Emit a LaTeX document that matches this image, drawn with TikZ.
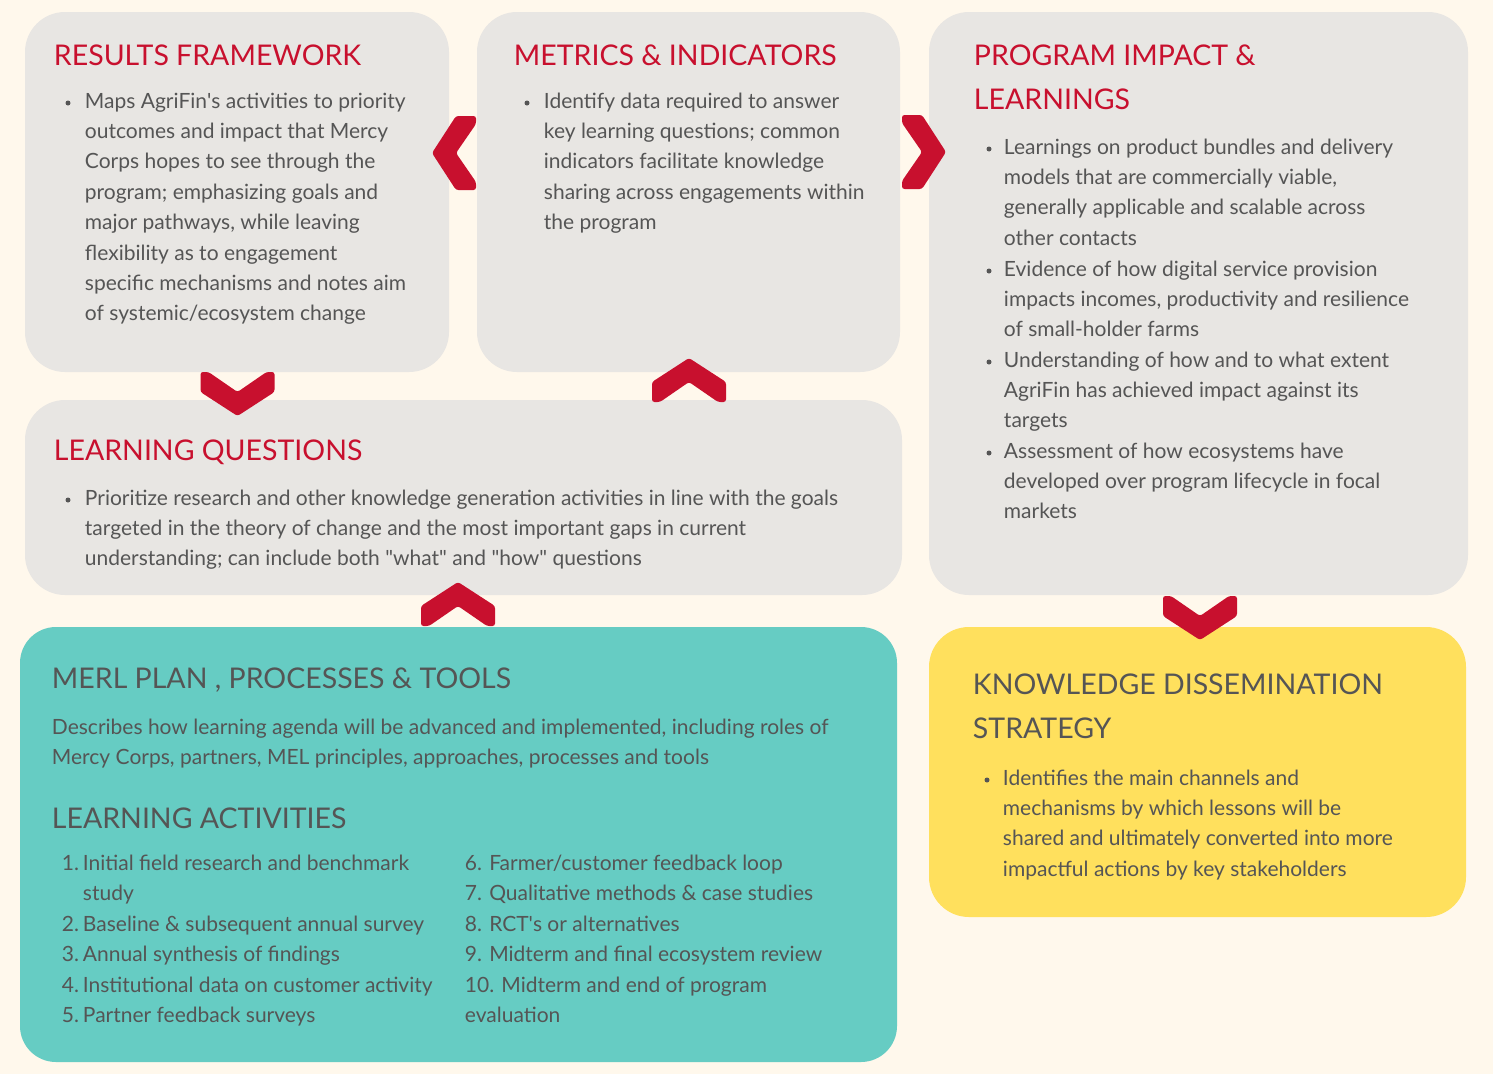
\documentclass[tikz,border=0pt]{standalone}
\usepackage{fontspec}
\setmainfont{Lato}
\definecolor{bgcream}{HTML}{FFF8EC}
\definecolor{boxgray}{HTML}{E8E6E3}
\definecolor{chevred}{HTML}{C8102E}
\definecolor{txtgray}{HTML}{555555}
\definecolor{merlteal}{HTML}{66CCC3}
\definecolor{kdyellow}{HTML}{FFE05D}
\begin{document}
\begin{tikzpicture}[x=1pt,y=1pt,yscale=-1,xscale=1,
	head/.style={anchor=base west,inner sep=0.75pt,align=left,font=\fontsize{28.5}{44}\selectfont},
	body/.style={anchor=base west,inner sep=0.75pt,align=left,text=txtgray,font=\fontsize{21}{30.4}\selectfont},
	num/.style={anchor=base east,inner sep=0.75pt,text=txtgray,font=\fontsize{21}{30.4}\selectfont},
	dot/.style={circle,fill=txtgray,inner sep=0pt,minimum size=5pt},
	chev/.pic={\fill [chevred,rounded corners=2.5pt] (0,-24) -- (37,0) -- (37,20) -- (29,20) -- (0,0) -- (-29,20) -- (-37,20) -- (-37,0) -- cycle ;}
	]
	\useasboundingbox (0,0) rectangle (1493,1074);
	\fill [bgcream] (0,0) rectangle (1493,1074);
	
	%Shape: Rounded boxes
	\fill [boxgray,rounded corners=40pt] (25,12) rectangle (449,372) ;
	\fill [boxgray,rounded corners=40pt] (477,12) rectangle (900,372) ;
	\fill [boxgray,rounded corners=40pt] (929,12) rectangle (1468,595) ;
	\fill [boxgray,rounded corners=40pt] (25,400) rectangle (902,595) ;
	\fill [merlteal,rounded corners=36pt] (20,627) rectangle (897,1062) ;
	\fill [kdyellow,rounded corners=40pt] (929,627) rectangle (1466,917) ;
	
	%Shape: Chevrons
	\pic [rotate=-90] at (456,153) {chev};
	\pic [rotate=90] at (922,152) {chev};
	\pic at (237.5,392) {chev};
	\pic [rotate=180] at (689,382) {chev};
	\pic [rotate=180] at (458,606) {chev};
	\pic at (1200,616) {chev};
	
	% Text Node (multi-line nodes sit on their last baseline)
	\draw (53,65) node [head,text=chevred] (rfHead) {RESULTS FRAMEWORK};
	\draw (68,103) node [dot] (rfDot) {};
	\draw (84,320.8) node [body] (rfText) {Maps AgriFin\textquotesingle s activities to priority\\outcomes and impact that Mercy\\Corps hopes to see through the\\program; emphasizing goals and\\major pathways, while leaving\\flexibility as to engagement\\specific mechanisms and notes aim\\of systemic/ecosystem change};
	% Text Node
	\draw (513,65) node [head,text=chevred] (miHead) {METRICS \& INDICATORS};
	\draw (527,103) node [dot] (miDot) {};
	\draw (543,229.6) node [body] (miText) {Identify data required to answer\\key learning questions; common\\indicators facilitate knowledge\\sharing across engagements within\\the program};
	% Text Node
	\draw (973,109) node [head,text=chevred] (piHead) {PROGRAM IMPACT \&\\LEARNINGS};
	\draw (989,149) node [dot] (piDotA) {};
	\draw (1003,245.2) node [body] (piTextA) {Learnings on product bundles and delivery\\models that are commercially viable,\\generally applicable and scalable across\\other contacts};
	\draw (989,271) node [dot] (piDotB) {};
	\draw (1003,336.8) node [body] (piTextB) {Evidence of how digital service provision\\impacts incomes, productivity and resilience\\of small-holder farms};
	\draw (989,362) node [dot] (piDotC) {};
	\draw (1003,427.8) node [body] (piTextC) {Understanding of how and to what extent\\AgriFin has achieved impact against its\\targets};
	\draw (989,453) node [dot] (piDotD) {};
	\draw (1003,518.8) node [body] (piTextD) {Assessment of how ecosystems have\\developed over program lifecycle in focal\\markets};
	% Text Node
	\draw (53,460) node [head,text=chevred] (lqHead) {LEARNING QUESTIONS};
	\draw (68,500) node [dot] (lqDot) {};
	\draw (84,565.8) node [body] (lqText) {Prioritize research and other knowledge generation activities in line with the goals\\targeted in the theory of change and the most important gaps in current\\understanding; can include both \textquotedbl what\textquotedbl{} and \textquotedbl how\textquotedbl{} questions};
	% Text Node
	\draw (51,688) node [head,text=txtgray] (mpHead) {MERL PLAN , PROCESSES \& TOOLS};
	\draw (51,764.4) node [body] (mpText) {Describes how learning agenda will be advanced and implemented, including roles of\\Mercy Corps, partners, MEL principles, approaches, processes and tools};
	\draw (51,828) node [head,text=txtgray] (laHead) {LEARNING ACTIVITIES};
	\draw (80,870) node [num] (laNumA) {1.};
	\draw (82,900.4) node [body] (laA) {Initial field research and benchmark\\study};
	\draw (80,931) node [num] (laNumB) {2.};
	\draw (82,931) node [body] (laB) {Baseline \& subsequent annual survey};
	\draw (80,961) node [num] (laNumC) {3.};
	\draw (82,961) node [body] (laC) {Annual synthesis of findings};
	\draw (80,992) node [num] (laNumD) {4.};
	\draw (82,992) node [body] (laD) {Institutional data on customer activity};
	\draw (80,1022) node [num] (laNumE) {5.};
	\draw (82,1022) node [body] (laE) {Partner feedback surveys};
	\draw (464,870) node [body] (laF) {6. Farmer/customer feedback loop};
	\draw (464,900) node [body] (laG) {7. Qualitative methods \& case studies};
	\draw (464,931) node [body] (laH) {8. RCT\textquotesingle s or alternatives};
	\draw (464,961) node [body] (laI) {9. Midterm and final ecosystem review};
	\draw (464,1022.4) node [body] (laJ) {10. Midterm and end of program\\evaluation};
	% Text Node
	\draw (972,738) node [head,text=txtgray] (kdHead) {KNOWLEDGE DISSEMINATION\\STRATEGY};
	\draw (987,780) node [dot] (kdDot) {};
	\draw (1002,876.2) node [body] (kdText) {Identifies the main channels and\\mechanisms by which lessons will be\\shared and ultimately converted into more\\impactful actions by key stakeholders};
	
\end{tikzpicture}
\end{document}
